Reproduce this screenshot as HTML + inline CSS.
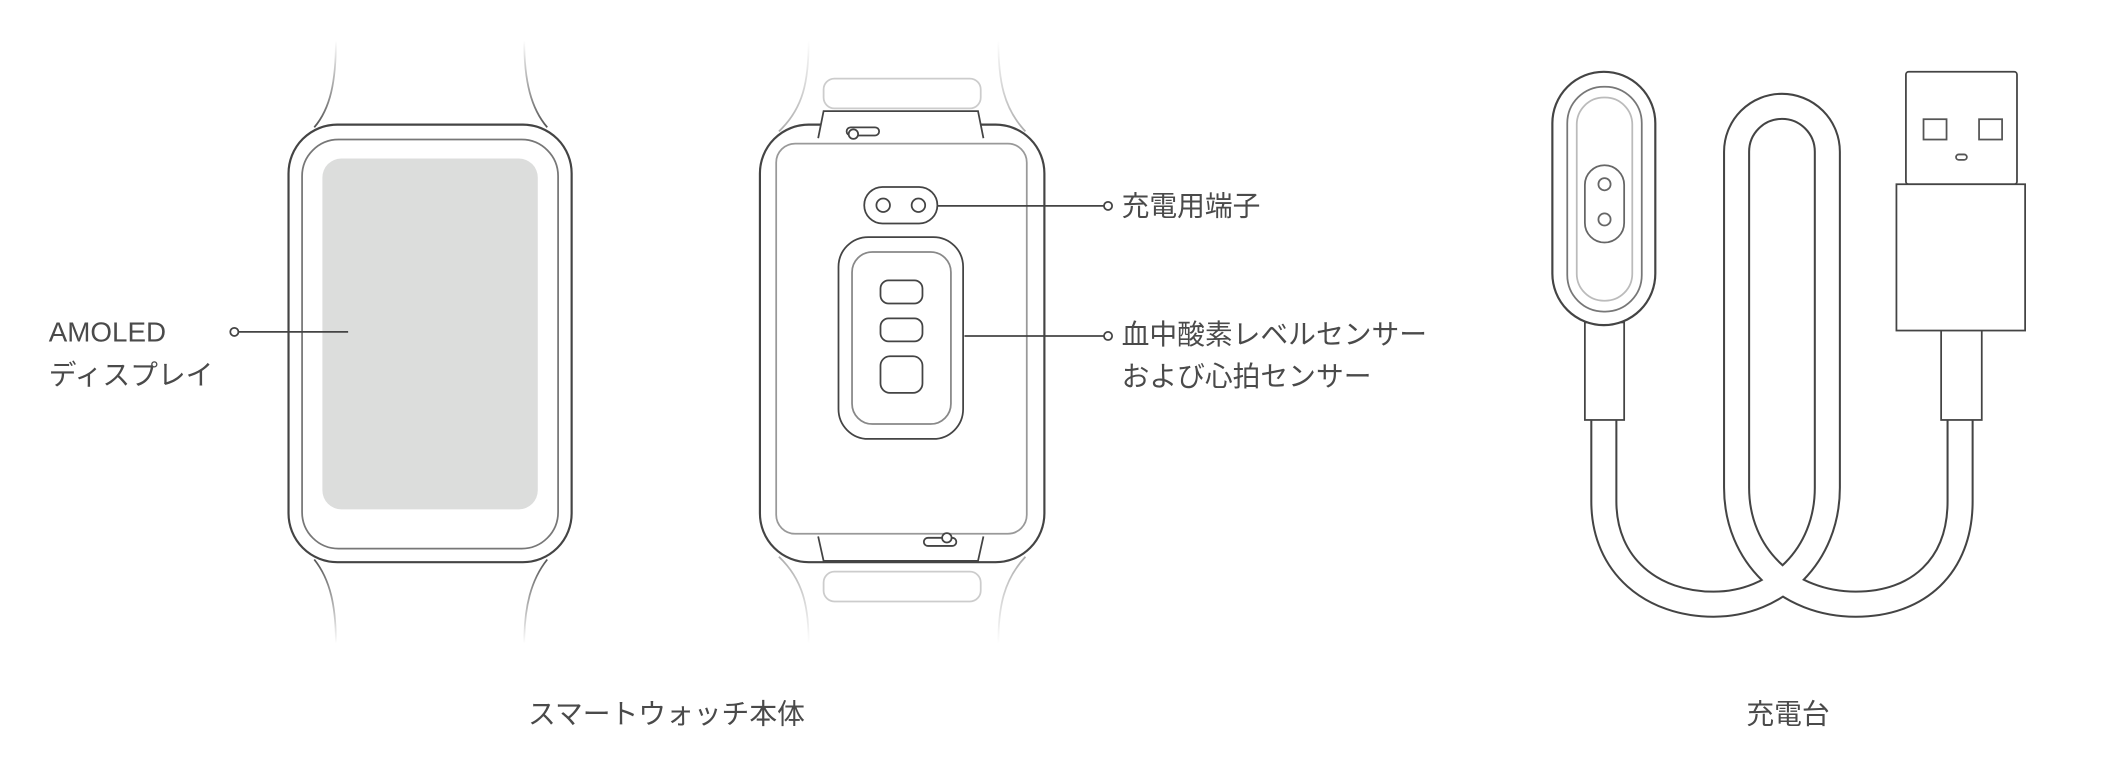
<!DOCTYPE html>
<html><head><meta charset="utf-8"><style>
html,body{margin:0;padding:0;background:#fff;}
svg{display:block}
text{font-family:"Liberation Sans","Noto Sans CJK JP",sans-serif;fill:#4a4a4a;font-size:20.5px;}
</style></head><body>
<svg width="2124" height="778" viewBox="0 0 1568 574.3" preserveAspectRatio="none" xmlns="http://www.w3.org/2000/svg">
<defs>
<linearGradient id="ft" x1="0" y1="0" x2="0" y2="1"><stop offset="0" stop-color="#555" stop-opacity="0"/><stop offset="1" stop-color="#555" stop-opacity="1"/></linearGradient>
<linearGradient id="fb" x1="0" y1="0" x2="0" y2="1"><stop offset="0" stop-color="#555" stop-opacity="1"/><stop offset="1" stop-color="#555" stop-opacity="0"/></linearGradient>
<linearGradient id="ft2" x1="0" y1="0" x2="0" y2="1"><stop offset="0" stop-color="#999" stop-opacity="0"/><stop offset="1" stop-color="#999" stop-opacity="0.8"/></linearGradient>
<linearGradient id="fb2" x1="0" y1="0" x2="0" y2="1"><stop offset="0" stop-color="#999" stop-opacity="0.8"/><stop offset="1" stop-color="#999" stop-opacity="0"/></linearGradient>
</defs>
<g fill="none" stroke-width="1.3">
<path d="M248,30 C248,60 244,80 232,94 M387,30 C387,60 392,80 404,94" stroke="url(#ft)"/>
<path d="M232,413 C244,428 248,448 248,475 M404,413 C392,428 387,448 387,475" stroke="url(#fb)"/>
<rect x="213" y="92" width="209" height="323" rx="36" stroke="#444" stroke-width="1.6"/>
<rect x="223" y="103" width="189" height="302" rx="27" stroke="#777"/>
<rect x="238" y="117" width="159" height="259" rx="14" fill="#dcdddc" stroke="none"/>
<circle cx="173" cy="245" r="3" stroke="#444"/>
<line x1="176" y1="245" x2="257" y2="245" stroke="#444"/>
<path d="M597,30 C597,60 593,80 575,97 M737,30 C737,60 741,80 757,97" stroke="url(#ft2)"/>
<path d="M575,411 C593,428 597,448 597,475 M757,411 C741,428 737,448 737,475" stroke="url(#fb2)"/>
<rect x="608" y="58" width="116" height="22" rx="8" stroke="#ccc"/>
<rect x="608" y="422" width="116" height="22" rx="8" stroke="#ccc"/>
<rect x="561" y="92" width="210" height="323" rx="36" stroke="#444" stroke-width="1.6"/>
<path d="M604,102 L608,82 L722,82 L726,102" stroke="#444" fill="#fff"/>
<path d="M604,396 L608,414 L722,414 L726,396" stroke="#444" fill="#fff"/>
<rect x="573" y="106" width="185" height="288" rx="14" stroke="#999"/>
<rect x="625" y="94" width="24" height="6" rx="3" stroke="#444"/>
<circle cx="630" cy="99" r="3.5" stroke="#444" fill="#fff"/>
<rect x="682" y="397" width="24" height="6" rx="3" stroke="#444"/>
<circle cx="699" cy="397" r="3.5" stroke="#444" fill="#fff"/>
<rect x="638" y="138" width="54" height="27" rx="13.5" stroke="#444"/>
<circle cx="652" cy="151.5" r="5" stroke="#444"/>
<circle cx="678" cy="151.5" r="5" stroke="#444"/>
<rect x="619" y="175" width="92" height="149" rx="22" stroke="#444"/>
<rect x="629" y="186" width="73" height="127" rx="15" stroke="#888"/>
<rect x="650" y="207" width="31" height="17" rx="6" stroke="#444"/>
<rect x="650" y="235" width="31" height="17" rx="6" stroke="#444"/>
<rect x="650" y="263" width="31" height="27" rx="7" stroke="#444"/>
<line x1="692" y1="152" x2="815" y2="152" stroke="#444"/>
<circle cx="818" cy="152" r="3" stroke="#444"/>
<line x1="712" y1="248" x2="815" y2="248" stroke="#444"/>
<circle cx="818" cy="248" r="3" stroke="#444"/>
<path d="M1184,300 L1184,370 C1184,418 1220,446 1265,446 C1312,446 1349,410 1349,360 L1349,112 A33.5,33.5 0 0 0 1282,112 L1282,360 C1282,410 1320,446 1370,446 C1416,446 1447,418 1447,370 L1447,300" stroke="#444" stroke-width="20"/>
<path d="M1184,300 L1184,370 C1184,418 1220,446 1265,446 C1312,446 1349,410 1349,360 L1349,112 A33.5,33.5 0 0 0 1282,112 L1282,360 C1282,410 1320,446 1370,446 C1416,446 1447,418 1447,370 L1447,300" stroke="#fff" stroke-width="17"/>
<rect x="1170" y="238" width="29" height="72" stroke="#444" fill="#fff"/>
<rect x="1433" y="240" width="30" height="70" stroke="#444" fill="#fff"/>
<rect x="1146" y="53" width="76" height="187" rx="38" stroke="#444" stroke-width="1.6" fill="#fff"/>
<rect x="1157" y="64" width="55" height="166" rx="27" stroke="#777"/>
<rect x="1164" y="72" width="41" height="150" rx="20" stroke="#bbb"/>
<rect x="1170" y="122" width="29" height="57" rx="14.5" stroke="#666"/>
<circle cx="1184.5" cy="136" r="4.5" stroke="#666"/>
<circle cx="1184.5" cy="162" r="4.5" stroke="#666"/>
<rect x="1407" y="53" width="82" height="83" rx="2" stroke="#444" fill="#fff"/>
<rect x="1400" y="136" width="95" height="108" stroke="#444" fill="#fff"/>
<rect x="1420" y="88" width="17" height="15" stroke="#555"/>
<rect x="1461" y="88" width="17" height="15" stroke="#555"/>
<rect x="1444" y="114" width="8" height="4" rx="2" stroke="#555"/>
</g>
<text x="36" y="252">AMOLED</text>
<text x="36" y="284">ディスプレイ</text>
<text x="828" y="159">充電用端子</text>
<text x="828" y="254">血中酸素レベルセンサー</text>
<text x="828" y="285">および心拍センサー</text>
<text x="492" y="534" text-anchor="middle">スマートウォッチ本体</text>
<text x="1320" y="534" text-anchor="middle">充電台</text>
</svg>
</body></html>
